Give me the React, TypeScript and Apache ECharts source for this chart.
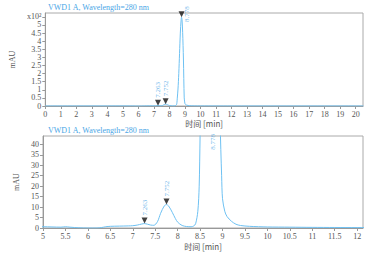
import React, { useEffect, useRef } from "react";
import * as echarts from "echarts";

const times = [0, 2, 4, 5.0, 5.2, 5.4, 5.5, 5.6, 5.8, 6.0, 6.2, 6.3, 6.4, 6.5, 6.7, 6.9, 7.0, 7.1, 7.2, 7.26, 7.33, 7.4, 7.47, 7.55, 7.62, 7.7, 7.75, 7.8, 7.88, 7.95, 8.0, 8.1, 8.2, 8.3, 8.36, 8.4, 8.45, 8.48, 8.5, 8.55, 8.6, 8.65, 8.7, 8.75, 8.778, 8.81, 8.85, 8.9, 8.95, 8.98, 9.0, 9.05, 9.1, 9.2, 9.3, 9.4, 9.6, 10.0, 10.5, 11.0, 11.5, 12.0, 12.2, 14, 16, 18, 20, 20.5];
const signal = [0.3, 0.3, 0.4, 0.6, 0.5, 0.4, 0.6, 0.4, 0.1, 0.0, 0.0, 0.2, 0.6, 0.8, 0.9, 1.0, 1.1, 1.4, 1.9, 2.1, 1.8, 1.4, 1.3, 3, 7, 10.5, 11.2, 10.5, 7.5, 4.5, 2.8, 1.2, 0.7, 0.6, 1.0, 2, 8, 20, 44, 105, 200, 325, 450, 530, 548, 532, 455, 290, 50, 25, 14, 8, 5.5, 3.2, 1.8, 1.2, 0.8, 0.5, 0.4, 0.3, 0.25, 0.2, 0.2, 0.2, 0.2, 0.2, 0.2, 0.2];

const peakTimes = [7.263, 7.752, 8.778];
const peakHeights = [2.1, 11.2, 548];
const peakLabels = ["7.263", "7.752", "8.778"];

const titleText = "VWD1 A, Wavelength=280 nm";
const xName = "时间 [min]";
const yName = "mAU";

const LINE = "#6ec1f2";
const TXT = "#555";
const FONT = "Liberation Serif, Noto Sans CJK SC, serif";

export default function App() {
  const ref = useRef<HTMLDivElement>(null);
  useEffect(() => {
    if (!ref.current) return;
    const chart = echarts.init(ref.current, null, { renderer: "svg" });
    const lineData = times.map((t, i) => [t, signal[i]]);
    const topMax = 574;
    const botMax = 44;

    const topPeaks = peakTimes.map((t, i) => {
      const big = peakHeights[i] > 100;
      return {
        value: [t, peakHeights[i]],
        label: big
          ? { position: "right", align: "center", verticalAlign: "middle", distance: 2 }
          : { position: "top", align: "left", verticalAlign: "middle", distance: 2 },
      };
    });
    const botPeaks = peakTimes.map((t, i) => {
      const clipped = peakHeights[i] > botMax;
      return {
        value: [t, Math.min(peakHeights[i], botMax)],
        symbolSize: clipped ? 0 : 6,
        label: clipped
          ? { position: "bottom", align: "right", verticalAlign: "middle", distance: 1 }
          : { position: "top", align: "left", verticalAlign: "middle", distance: 2 },
      };
    });

    const axisCommon = {
      axisLine: { show: true, lineStyle: { color: "#999" } },
      axisTick: { show: true, length: 3, lineStyle: { color: "#999" } },
      axisLabel: { color: TXT, fontSize: 8, fontFamily: FONT, margin: 4, showMaxLabel: false },
      splitLine: { show: false },
    };

    const peakSeries = (data: any[], xi: number) => ({
      type: "scatter",
      xAxisIndex: xi,
      yAxisIndex: xi,
      data,
      symbol: "triangle",
      symbolRotate: 180,
      symbolSize: 6,
      symbolOffset: [0, -3],
      itemStyle: { color: "#111" },
      label: {
        show: true,
        rotate: 90,
        formatter: (p: any) => peakLabels[p.dataIndex],
        color: "#4aa6e6",
        fontSize: 7,
        fontFamily: FONT,
      },
      z: 5,
    });

    const titleStyle = { fill: "#4aa6e6", fontSize: 8, fontFamily: FONT, text: titleText, verticalAlign: "bottom" };

    chart.setOption({
      animation: false,
      backgroundColor: "#fff",
      graphic: [
        { type: "text", left: 48, top: 3, style: { ...titleStyle } },
        { type: "text", left: 48, top: 126, style: { ...titleStyle } },
      ],
      grid: [
        { left: 43, top: 13, width: 320, height: 93, show: true, borderColor: "#aaa", borderWidth: 1, backgroundColor: "#fff" },
        { left: 43, top: 136, width: 320, height: 92, show: true, borderColor: "#aaa", borderWidth: 1, backgroundColor: "#fff" },
      ],
      xAxis: [
        {
          ...axisCommon,
          gridIndex: 0,
          type: "value",
          min: 0,
          max: 20.47,
          interval: 1,
          name: xName,
          nameLocation: "middle",
          nameGap: 13,
          nameTextStyle: { color: TXT, fontSize: 8, fontFamily: "Noto Sans CJK SC" },
        },
        {
          ...axisCommon,
          gridIndex: 1,
          type: "value",
          min: 5,
          max: 12.13,
          interval: 0.5,
          name: xName,
          nameLocation: "middle",
          nameGap: 14,
          nameTextStyle: { color: TXT, fontSize: 8, fontFamily: "Noto Sans CJK SC" },
        },
      ],
      yAxis: [
        {
          ...axisCommon,
          gridIndex: 0,
          type: "value",
          min: 0,
          max: topMax,
          interval: 50,
          axisLabel: {
            ...axisCommon.axisLabel,
            formatter: (v: number) => (v === 550 ? "x10²" : String(v / 100)),
          },
          name: yName,
          nameLocation: "middle",
          nameGap: 20,
          nameRotate: 90,
          nameTextStyle: { color: TXT, fontSize: 8, fontFamily: FONT },
        },
        {
          ...axisCommon,
          gridIndex: 1,
          type: "value",
          min: 0,
          max: botMax,
          interval: 5,
          name: yName,
          nameLocation: "middle",
          nameGap: 20,
          nameRotate: 90,
          nameTextStyle: { color: TXT, fontSize: 8, fontFamily: FONT },
        },
      ],
      series: [
        {
          type: "line",
          xAxisIndex: 0,
          yAxisIndex: 0,
          data: lineData,
          showSymbol: false,
          smooth: 0.3,
          lineStyle: { color: LINE, width: 1 },
        },
        {
          type: "line",
          xAxisIndex: 1,
          yAxisIndex: 1,
          data: lineData,
          showSymbol: false,
          smooth: 0.3,
          clip: true,
          lineStyle: { color: LINE, width: 1 },
        },
        peakSeries(topPeaks, 0),
        peakSeries(botPeaks, 1),
      ],
    });
    return () => chart.dispose();
  }, []);
  return (
    <div
      ref={ref}
      style={{ position: "fixed", left: 0, top: 0, width: 373, height: 253 }}
    />
  );
}
